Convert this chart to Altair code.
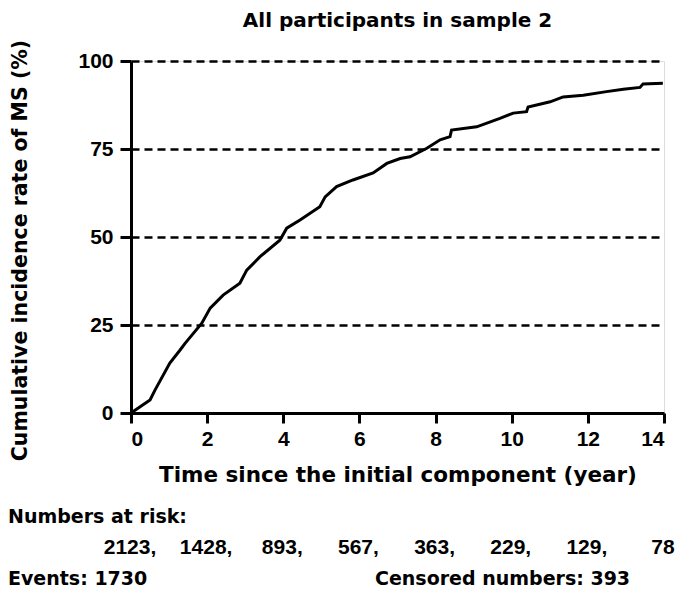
import altair as alt
import pandas as pd

# Cumulative incidence curve
time_years = [0, 0.5, 0.63, 1.02, 1.29, 1.42, 1.86, 2.08, 2.42, 2.86, 3.04, 3.39, 3.91,
              4.09, 4.44, 4.96, 5.10, 5.40, 5.83, 6.36, 6.72, 7.07, 7.33, 7.77, 8.12,
              8.38, 8.42, 9.08, 9.69, 10.04, 10.39, 10.43, 11.01, 11.35, 11.88, 12.49,
              12.93, 13.37, 13.45, 13.97]
incidence = [0, 3.7, 6.5, 14.2, 17.9, 19.8, 25.5, 29.8, 33.5, 36.9, 40.6, 44.4, 49.1,
             52.5, 54.8, 58.6, 61.4, 64.3, 66.2, 68.2, 70.9, 72.3, 72.8, 75.2, 77.6,
             78.5, 80.4, 81.3, 83.7, 85.2, 85.6, 86.9, 88.4, 89.8, 90.3, 91.3,
             92.0, 92.5, 93.5, 93.7]

risk_times = [0, 2, 4, 6, 8, 10, 12, 14]
risk_numbers = ["2123,", "1428,", "893,", "567,", "363,", "229,", "129,", "78"]

title_text = "All participants in sample 2"
y_title = "Cumulative incidence rate of MS (%)"
x_title = "Time since the initial component (year)"
risk_label = "Numbers at risk:"
events_label = "Events: 1730"
censored_label = "Censored numbers: 393"

FONT = "Liberation Sans"
WFONT = "DejaVu Sans"

curve = pd.DataFrame({"t": time_years, "y": incidence})
risk = pd.DataFrame({"t": risk_times, "n": risk_numbers})

xscale = alt.Scale(domain=[0, 14], nice=False, zero=True)
yscale = alt.Scale(domain=[0, 100], nice=False)

line = alt.Chart(curve).mark_line(color="black", strokeWidth=3, interpolate="linear").encode(
    x=alt.X("t:Q", scale=xscale,
            axis=alt.Axis(title=x_title, values=[0, 2, 4, 6, 8, 10, 12, 14], format="d",
                          grid=False, domainColor="black", domainWidth=3,
                          tickColor="black", tickWidth=3, tickSize=10,
                          labelFont=FONT, labelFontSize=21, labelFontWeight="bold",
                          labelColor="black", labelPadding=5,
                          titleFont=WFONT, titleFontSize=21.5, titleFontWeight="bold",
                          titleColor="black", titlePadding=15)),
    y=alt.Y("y:Q", scale=yscale,
            axis=alt.Axis(title=y_title, values=[0, 25, 50, 75, 100],
                          grid=True, gridColor="black", gridDash=[8, 5], gridWidth=2.5,
                          domainColor="black", domainWidth=3,
                          tickColor="black", tickWidth=3, tickSize=11,
                          labelFont=FONT, labelFontSize=21, labelFontWeight="bold",
                          labelColor="black", labelPadding=7,
                          titleFont=WFONT, titleFontSize=20.5, titleFontWeight="bold",
                          titleColor="black", titleX=-111, titleY=189,
                          titleBaseline="middle", titleAngle=-90)),
)

txt = dict(fontWeight="bold", color="black")

risk_text = alt.Chart(risk).mark_text(align="center", baseline="middle", font=FONT,
                                      fontSize=21, dx=-1, **txt).encode(
    x=alt.X("t:Q", scale=xscale),
    y=alt.value(487),
    text="n:N",
)

def label(s, x, y, align="left", size=19, baseline="middle"):
    return alt.Chart(pd.DataFrame({"s": [s]})).mark_text(
        align=align, baseline=baseline, font=WFONT, fontSize=size, **txt).encode(
        x=alt.value(x), y=alt.value(y), text="s:N")

chart = alt.layer(
    line,
    risk_text,
    label(title_text, 266.5, -34, align="center", size=20, baseline="alphabetic"),
    label(risk_label, -123, 456),
    label(events_label, -123, 518),
    label(censored_label, 244, 518),
).properties(
    width=533, height=352,
    autosize=alt.AutoSizeParams(type="none"),
    padding={"left": 123, "top": 53, "right": 11, "bottom": 176},
).configure_view(stroke=None).configure(background="white")

chart.save("out.html", embed_options={"renderer": "svg", "actions": False})
